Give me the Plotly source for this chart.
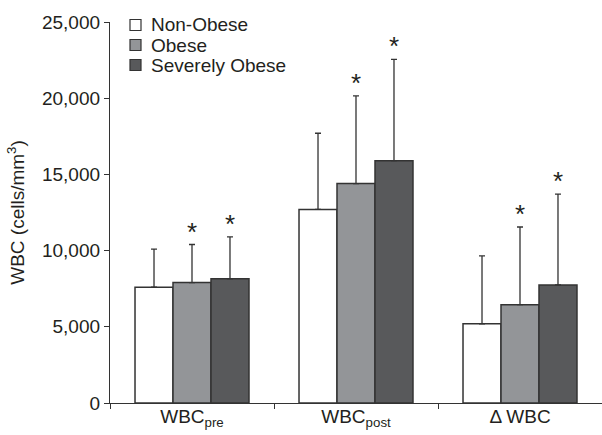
import plotly.graph_objects as go

categories = ["WBC<sub>pre</sub>", "WBC<sub>post</sub>", "Δ WBC"]
groups = ["Non-Obese", "Obese", "Severely Obese"]
means = {
    "Non-Obese": [7600, 12700, 5200],
    "Obese": [7900, 14400, 6450],
    "Severely Obese": [8150, 15900, 7750],
}
sds = {
    "Non-Obese": [2500, 5000, 4450],
    "Obese": [2500, 5750, 5100],
    "Severely Obese": [2750, 6650, 5950],
}
starred = {
    "Non-Obese": [False, False, False],
    "Obese": [True, True, True],
    "Severely Obese": [True, True, True],
}
colors = {"Non-Obese": "#ffffff", "Obese": "#939598", "Severely Obese": "#58595b"}
ytick_vals = [0, 5000, 10000, 15000, 20000, 25000]
ytick_text = ["0", "5,000", "10,000", "15,000", "20,000", "25,000"]

FONT = "Liberation Sans, Arial, sans-serif"
INK = "#231f20"
EDGE = "#333333"
bargap = 0.305
W, H = 602, 435
ML, MR, MT, MB = 110, 0, 22, 32
pw, ph = W - ML - MR, H - MT - MB

fig = go.Figure()
for g in groups:
    fig.add_trace(go.Bar(
        x=categories, y=means[g], name=g, showlegend=False,
        marker=dict(color=colors[g], line=dict(color=EDGE, width=1.5)),
        error_y=dict(type="data", symmetric=False, array=sds[g],
                     arrayminus=[0] * len(sds[g]),
                     color=EDGE, thickness=1.3, width=3),
    ))

w = (1 - bargap) / len(groups)
for j, g in enumerate(groups):
    for i, c in enumerate(categories):
        if starred[g][i]:
            fig.add_annotation(
                x=i + (j - 1) * w, y=means[g][i] + sds[g][i],
                text="*", showarrow=False, yanchor="bottom",
                yshift=-4, font=dict(family=FONT, size=26, color=INK),
            )

# legend drawn as squares + labels (paper coordinates)
def px2x(px):
    return (px - ML) / pw

def py2y(py):
    return (H - MB - py) / ph

for k, g in enumerate(groups):
    cy = 25 + k * 20
    fig.add_shape(type="rect", xref="paper", yref="paper",
                  x0=px2x(130), x1=px2x(141), y0=py2y(cy + 5.5), y1=py2y(cy - 5.5),
                  fillcolor=colors[g], line=dict(color=EDGE, width=1.2))
    fig.add_annotation(x=px2x(149), y=py2y(cy), xref="paper", yref="paper",
                       text=g, showarrow=False, xanchor="left", yanchor="middle",
                       font=dict(family=FONT, size=19, color=INK))

fig.update_layout(
    width=W, height=H,
    margin=dict(l=ML, r=MR, t=MT, b=MB, autoexpand=False),
    paper_bgcolor="white", plot_bgcolor="white",
    barmode="group", bargap=bargap, bargroupgap=0,
    font=dict(family=FONT, size=19, color=INK),
    showlegend=False,
    xaxis=dict(type="category", tickson="boundaries", ticks="outside",
               ticklen=5, tickcolor=EDGE, showline=True, automargin=False,
               linecolor=EDGE, linewidth=1.3, showgrid=False,
               ticklabelstandoff=-4, tickfont=dict(size=19)),
    yaxis=dict(range=[0, 25000], tickvals=ytick_vals, ticktext=ytick_text,
               ticks="outside", ticklen=5, tickcolor=EDGE, automargin=False,
               showline=True, linecolor=EDGE, linewidth=1.3,
               showgrid=False, zeroline=False,
               title=dict(text="WBC (cells/mm<sup>3</sup>)", standoff=12,
                          font=dict(size=19))),
)

fig.write_html("out.html", config={"displayModeBar": False},
               post_script="document.body.style.margin='0';document.body.style.overflow='hidden';")
